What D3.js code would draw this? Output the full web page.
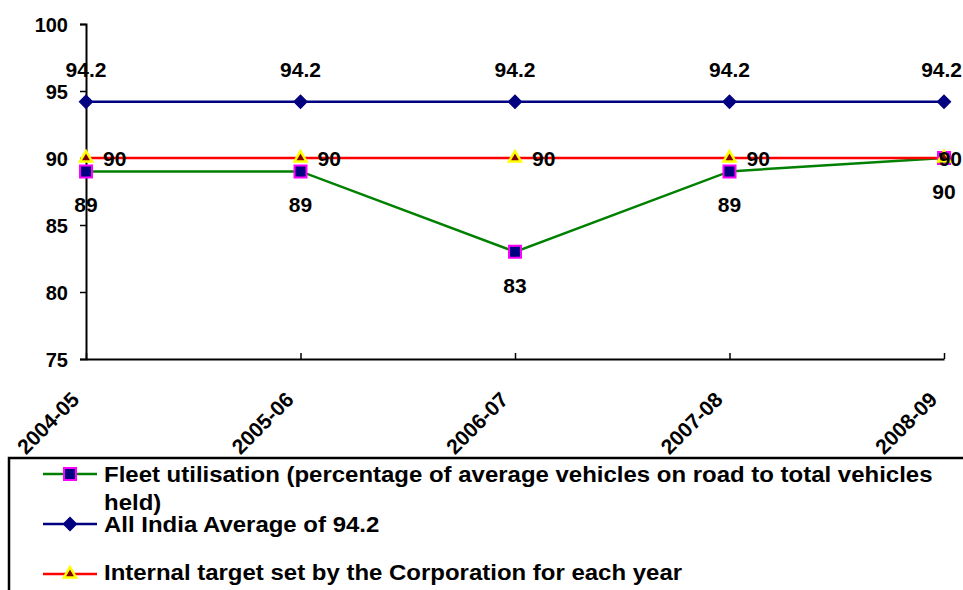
<!DOCTYPE html>
<html>
<head>
<meta charset="utf-8">
<script src="https://cdn.jsdelivr.net/npm/d3@7"></script>
<style>
  body { margin: 0; background: #fff; }
  svg text { font-family: "Liberation Sans", Arial, sans-serif; font-weight: bold; }
</style>
</head>
<body>
<svg id="chart" width="963" height="590"></svg>
<script>
"use strict";

// chart data
let years = ["2004-05", "2005-06", "2006-07", "2007-08", "2008-09"];
let fleetUtilisation = [89, 89, 83, 89, 90];
let allIndiaAverage = [94.2, 94.2, 94.2, 94.2, 94.2];
let internalTarget = [90, 90, 90, 90, 90];
let yTicks = [75, 80, 85, 90, 95, 100];
let legendLabels = [
  ["Fleet utilisation (percentage of average vehicles on road to total vehicles", "held)"],
  ["All India Average of 94.2"],
  ["Internal target set by the Corporation for each year"]
];

let width = 963;
let svg = d3.select("#chart");

// scales
let x = d3.scalePoint().domain(years).range([86, 944]);
let y = d3.scaleLinear().domain([75, 100]).range([359, 24]);

// axes
let yAxis = svg.append("g")
  .attr("transform", "translate(86,0)")
  .call(d3.axisLeft(y).tickValues(yTicks).tickSize(6).tickPadding(12));
yAxis.select(".domain").attr("stroke", "#000").attr("stroke-width", 2);
yAxis.selectAll(".tick line").attr("stroke", "#000").attr("stroke-width", 1.5);
yAxis.selectAll("text").style("font-size", "20px").attr("fill", "#000").attr("dy", "0.36em");

let xAxis = svg.append("g")
  .attr("transform", "translate(0,359)")
  .call(d3.axisBottom(x).tickSize(-6).tickSizeOuter(0));
xAxis.select(".domain").attr("stroke", "#000").attr("stroke-width", 2);
xAxis.selectAll(".tick line").attr("stroke", "#000").attr("stroke-width", 1.5);
xAxis.selectAll("text")
  .style("font-size", "21px")
  .attr("fill", "#000")
  .attr("text-anchor", "end")
  .attr("y", 0).attr("dy", 0)
  .attr("transform", "translate(-6,42) rotate(-45)");

// series helpers
let line = d3.line().x((d, i) => x(years[i])).y(d => y(d));

function drawLine(values, color) {
  svg.append("path")
    .datum(values)
    .attr("fill", "none")
    .attr("stroke", color)
    .attr("stroke-width", 2.5)
    .attr("d", line);
}

// markers: square, diamond (square turned 45deg), triangle
let markerStyle = {
  fleet: { path: d3.symbol().type(d3.symbolSquare).size(144), rot: 0, fill: "#000080", stroke: "#FF00FF", sw: 2 },
  india: { path: d3.symbol().type(d3.symbolSquare).size(90), rot: 45, fill: "#000080", stroke: "#000080", sw: 1 },
  target: { path: d3.symbol().type(d3.symbolTriangle).size(62), rot: 0, fill: "#800000", stroke: "#FFFF00", sw: 2.5 }
};

function drawMarkers(values, style) {
  svg.append("g").selectAll("path")
    .data(values)
    .join("path")
    .attr("d", style.path())
    .attr("transform", (d, i) => `translate(${x(years[i])},${y(d)}) rotate(${style.rot})`)
    .attr("fill", style.fill)
    .attr("stroke", style.stroke)
    .attr("stroke-width", style.sw);
}

// labels are pushed back inside the picture when they would run off the right edge
function drawLabels(values, dx, dy, anchor, fmt) {
  svg.append("g").selectAll("text")
    .data(values)
    .join("text")
    .attr("x", (d, i) => x(years[i]) + dx)
    .attr("y", d => y(d) + dy)
    .attr("text-anchor", anchor)
    .style("font-size", "21px")
    .attr("fill", "#000")
    .text(fmt)
    .each(function() {
      let b = this.getBBox();
      if (b.x + b.width > width - 1) {
        let el = d3.select(this);
        el.attr("x", +el.attr("x") - (b.x + b.width - (width - 1)));
      }
    });
}

// lines
drawLine(fleetUtilisation, "#008000");
drawLine(allIndiaAverage, "#000080");
drawLine(internalTarget, "#FF0000");

// markers
drawMarkers(fleetUtilisation, markerStyle.fleet);
drawMarkers(allIndiaAverage, markerStyle.india);
drawMarkers(internalTarget, markerStyle.target);

// data labels
drawLabels(fleetUtilisation, 0, 41, "middle", d => d);
drawLabels(allIndiaAverage, 0, -25, "middle", d => d3.format(".1f")(d));
drawLabels(internalTarget, 17, 8, "start", d => d);

// legend
let legend = svg.append("g");
legend.append("rect")
  .attr("x", 9).attr("y", 458)
  .attr("width", 1000).attr("height", 200)
  .attr("fill", "#fff")
  .attr("stroke", "#000")
  .attr("stroke-width", 2.5);

let legendItems = [
  { color: "#008000", style: markerStyle.fleet, cy: 474, base: 482 },
  { color: "#000080", style: markerStyle.india, cy: 524, base: 532 },
  { color: "#FF0000", style: markerStyle.target, cy: 574, base: 580 }
];

legendItems.forEach((item, k) => {
  legend.append("line")
    .attr("x1", 43).attr("x2", 97)
    .attr("y1", item.cy).attr("y2", item.cy)
    .attr("stroke", item.color)
    .attr("stroke-width", 2.5);
  legend.append("path")
    .attr("d", item.style.path())
    .attr("transform", `translate(70,${item.cy}) rotate(${item.style.rot})`)
    .attr("fill", item.style.fill)
    .attr("stroke", item.style.stroke)
    .attr("stroke-width", item.style.sw);
  let t = legend.append("text")
    .attr("transform", `translate(104,${item.base}) scale(1.09,1)`)
    .attr("x", 0).attr("y", 0)
    .style("font-size", "22px")
    .attr("fill", "#000");
  legendLabels[k].forEach((s, j) => {
    t.append("tspan").attr("x", 0).attr("dy", j === 0 ? 0 : 28).text(s);
  });
});
</script>
</body>
</html>
